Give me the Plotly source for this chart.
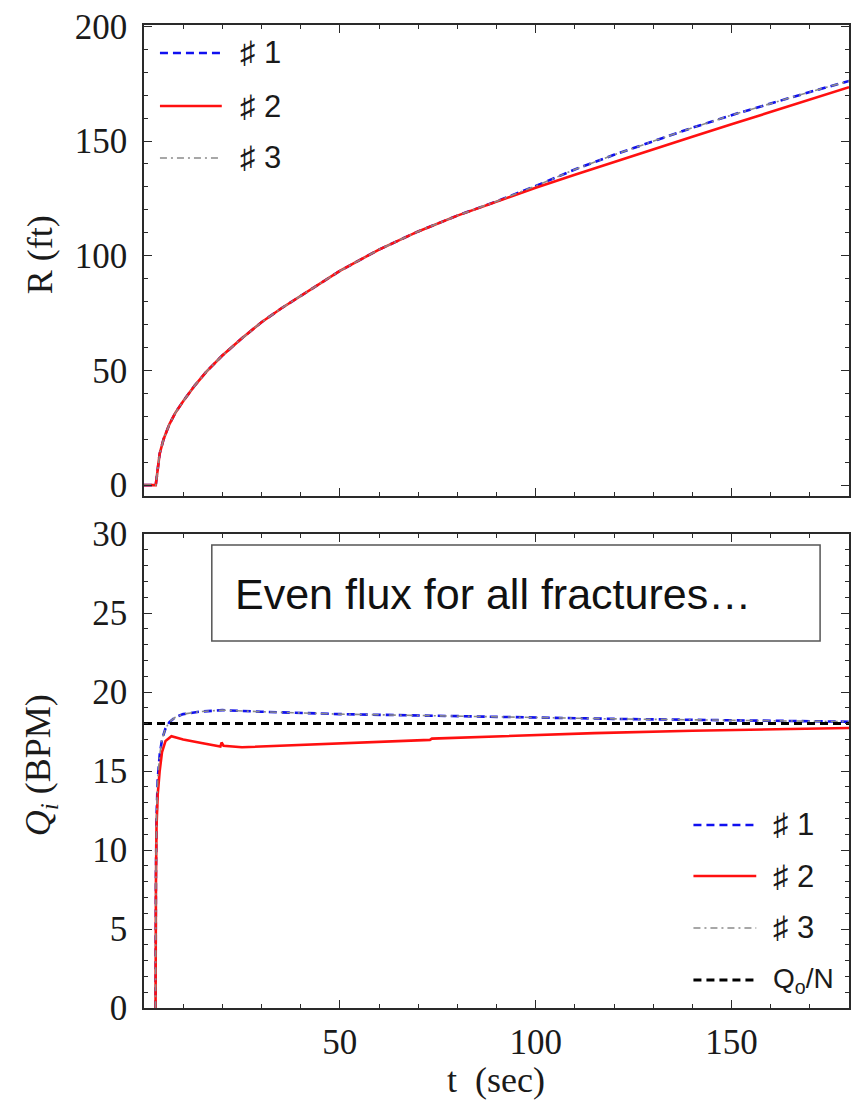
import plotly.graph_objects as go

# ---- data -----------------------------------------------------------------
# fracture half-length R (ft) versus time t (sec)
t_R = [0, 3.0, 4.0, 5.0, 6.5, 8, 10, 13, 16, 20, 25, 30, 35, 40, 45, 50, 60, 70,
       80, 90, 100, 110, 120, 130, 140, 150, 160, 170, 180]
R_1 = [0, 0, 13.7, 20, 26.6, 31.5, 36.6, 43.5, 49.6, 56.5, 64, 71, 77, 82.5, 88,
       93.4, 102.7, 110.6, 117.5, 123.7, 130.4, 137.6, 144.0, 150.0, 155.8, 161.3,
       166.5, 171.4, 176.2]
R_2 = [0, 0, 13.7, 20, 26.6, 31.5, 36.6, 43.5, 49.6, 56.5, 64, 71, 77, 82.5, 88,
       93.4, 102.7, 110.6, 117.5, 123.7, 129.6, 135.3, 140.9, 146.4, 151.9, 157.3,
       162.7, 168.1, 173.5]
R_3 = [0, 0, 13.7, 20, 26.6, 31.5, 36.6, 43.5, 49.6, 56.5, 64, 71, 77, 82.5, 88,
       93.4, 102.7, 110.6, 117.5, 123.7, 130.4, 137.6, 144.0, 150.0, 155.8, 161.3,
       166.5, 171.4, 176.2]

# flux into each fracture Q_i (BPM) versus time
t_Q1 = [2.9, 2.95, 3.05, 3.2, 3.5, 4.0, 4.6, 5.5, 6.5, 8, 10, 14, 20, 30, 50, 70,
        92, 120, 150, 180]
Q_1 = [0, 0, 8.5, 12, 14.5, 16, 17, 17.7, 18.1, 18.4, 18.6, 18.75, 18.85, 18.75,
       18.6, 18.5, 18.42, 18.3, 18.2, 18.12]
t_Q2 = [2.9, 2.95, 3.05, 3.2, 3.5, 4.0, 4.6, 5.5, 7.0, 10, 15, 19.5, 19.8, 20.3,
        25, 35, 50, 73, 73.5, 90, 115, 140, 160, 180]
Q_2 = [0, 0, 8, 11.5, 13.5, 15, 16.2, 16.9, 17.2, 17.0, 16.75, 16.55, 16.8, 16.6,
       16.5, 16.6, 16.75, 16.97, 17.05, 17.2, 17.4, 17.55, 17.65, 17.72]
t_Q3 = t_Q1
Q_3 = [0, 0, 8.5, 12, 14.5, 16, 17, 17.7, 18.1, 18.4, 18.6, 18.75, 18.85, 18.75,
       18.6, 18.5, 18.42, 18.3, 18.2, 18.12]
# average flux Q_o / N
t_avg = [0, 180]
Q_avg = [18, 18]

names = ["\u266f 1", "\u266f 2", "\u266f 3"]
avg_name = "Q<sub>o</sub>/N"
x_ticks = [50, 100, 150]
R_ticks = [0, 50, 100, 150, 200]
Q_ticks = [0, 5, 10, 15, 20, 25, 30]

# ---- styles ---------------------------------------------------------------
styles = [
    dict(color="#1010f0", width=2.6, dash="8px,5px"),
    dict(color="#ff1010", width=2.6, dash="solid"),
    dict(color="#8a8a8a", width=1.6, dash="7px,4px,2px,4px"),
]
avg_style = dict(color="#000000", width=3.0, dash="8px,5px")

W, H = 856, 1105
L, R, T, B = 144, 5, 25, 97
plot_h = H - T - B
plot_w = W - L - R
bottom_px = H - B  # y pixel of the lower frame edge


def px(x):
    return (x - L) / plot_w


def py(y):
    return (bottom_px - y) / plot_h


fig = go.Figure()

for tr, ys, nm, st in zip([t_R] * 3, [R_1, R_2, R_3], names, styles):
    fig.add_trace(go.Scatter(x=tr, y=ys, name=nm, mode="lines", line=st,
                             xaxis="x2", yaxis="y2", showlegend=False))

for tr, ys, nm, st in zip([t_Q1, t_Q2, t_Q3], [Q_1, Q_2, Q_3], names, styles):
    fig.add_trace(go.Scatter(x=tr, y=ys, name=nm, mode="lines", line=st,
                             xaxis="x", yaxis="y", showlegend=False))
fig.add_trace(go.Scatter(x=t_avg, y=Q_avg, name=avg_name, mode="lines",
                         line=avg_style, xaxis="x", yaxis="y", showlegend=False))

serif = "Liberation Serif, Times New Roman, serif"
sans = "Liberation Sans, Arial, DejaVu Sans, sans-serif"
frame = dict(showline=True, linecolor="#2a2a2a", linewidth=1.7, mirror="allticks",
             ticks="inside", ticklen=8, tickwidth=1.2, tickcolor="#2a2a2a",
             showgrid=False, zeroline=False,
             tickfont=dict(family=serif, size=35, color="#1a1a1a"))

top_lo = py(496)
bot_hi = py(534)

fig.update_layout(
    width=W, height=H,
    margin=dict(l=L, r=R, t=T, b=B),
    paper_bgcolor="white", plot_bgcolor="white",
    showlegend=False,
    xaxis=dict(**frame, range=[0, 180], tickvals=x_ticks, anchor="y",
               ticklabelstandoff=2,
               minor=dict(ticks="inside", ticklen=4, dtick=10, tick0=0,
                          tickcolor="#2a2a2a", tickwidth=1)),
    yaxis=dict(**frame, range=[0, 30], tickvals=Q_ticks, domain=[0, bot_hi],
               anchor="x", ticklabelstandoff=8,
               minor=dict(ticks="inside", ticklen=4, dtick=1, tick0=0,
                          tickcolor="#2a2a2a", tickwidth=1)),
    xaxis2=dict(**frame, range=[0, 180], tickvals=x_ticks, anchor="y2",
                matches="x", showticklabels=False,
                minor=dict(ticks="inside", ticklen=4, dtick=10, tick0=0,
                           tickcolor="#2a2a2a", tickwidth=1)),
    yaxis2=dict(**frame, range=[-4.75, 200.6], tickvals=R_ticks,
                domain=[top_lo, 1], anchor="x2", ticklabelstandoff=8,
                minor=dict(ticks="inside", ticklen=4, dtick=10, tick0=0,
                           tickcolor="#2a2a2a", tickwidth=1)),
)

annotations = []
shapes = []

# axis titles
title_font = dict(family=serif, size=36, color="#1a1a1a")
annotations.append(dict(text="R (ft)", x=px(40), y=py(255), xref="paper",
                        yref="paper", showarrow=False, textangle=-90,
                        xanchor="center", yanchor="middle", font=title_font))
annotations.append(dict(text="<i>Q<sub>i</sub></i> (BPM)", x=px(40), y=py(765),
                        xref="paper", yref="paper", showarrow=False,
                        textangle=-90, xanchor="center", yanchor="middle",
                        font=title_font))
annotations.append(dict(text="t  (sec)", x=px(497), y=py(1080), xref="paper",
                        yref="paper", showarrow=False, xanchor="center",
                        yanchor="middle", font=title_font))

# boxed note in the flux panel
shapes.append(dict(type="rect", xref="paper", yref="paper",
                   x0=px(212), x1=px(822), y0=py(641), y1=py(545),
                   line=dict(color="#555555", width=1.5), fillcolor="white"))
annotations.append(dict(text="Even flux for all fractures\u2026", x=px(233),
                        y=py(594), xref="paper", yref="paper", xanchor="left",
                        yanchor="middle", showarrow=False,
                        font=dict(family=sans, size=43, color="#111111")))


def legend_block(entries, x0, x1, xtext, rows):
    for (label, st, fsize), yrow in zip(entries, rows):
        shapes.append(dict(type="line", xref="paper", yref="paper",
                           x0=px(x0), x1=px(x1), y0=py(yrow), y1=py(yrow),
                           line=st))
        annotations.append(dict(text=label, x=px(xtext), y=py(yrow),
                                xref="paper", yref="paper", xanchor="left",
                                yanchor="middle", showarrow=False,
                                font=dict(family=sans, size=fsize,
                                          color="#1a1a1a")))


legend_block([(n, s, 31) for n, s in zip(names, styles)],
             160, 222, 238, [53, 106, 158])
legend_block([(n, s, 31) for n, s in zip(names, styles)] +
             [(avg_name, avg_style, 28)],
             695, 758, 773, [825, 876, 928, 980])

fig.update_layout(annotations=annotations, shapes=shapes)

fig.write_html("out.html")
